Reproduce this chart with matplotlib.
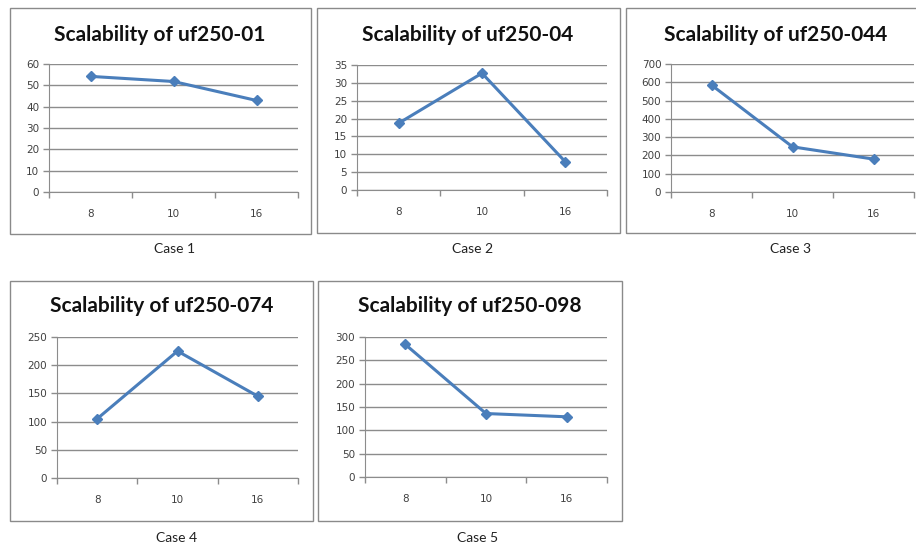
import matplotlib
matplotlib.use("Agg")
import matplotlib.pyplot as plt
from matplotlib.patches import Rectangle

# processor counts on the x axis, shared by every panel
procs = ["8", "10", "16"]

titles = ["Scalability of uf250-01", "Scalability of uf250-04",
          "Scalability of uf250-044", "Scalability of uf250-074",
          "Scalability of uf250-098"]
captions = ["Case 1", "Case 2", "Case 3", "Case 4", "Case 5"]

case1 = [54.2, 51.8, 42.9]
case2 = [18.7, 32.7, 7.9]
case3 = [585, 247, 180]
case4 = [105, 225, 145]
case5 = [284, 136, 129]
series = [case1, case2, case3, case4, case5]

ymax = [60, 35, 700, 250, 300]
ystep = [10, 5, 100, 50, 50]

W, H = 916, 550
LINE = "#4A7EBB"
GRID = "#8C8C8C"
TXT = "#404040"

# pixel layout: box (l, t, r, b), plot (l, t, r, b), title (x, y), caption (x, y)
boxes = [(10, 8, 311, 234), (317, 8, 620, 233), (626, 8, 920, 233),
         (10, 281, 313, 521), (318, 281, 622, 521)]
plots = [(49, 64, 298, 192), (357, 65, 607, 190), (671, 64, 914, 192),
         (57, 337, 298, 478), (365, 337, 607, 477)]
title_pos = [(160, 35), (468, 35), (776, 35), (162, 306), (470, 306)]
cap_pos = [(175, 249), (473, 249), (790, 249), (177, 538), (478, 538)]


def fx(x):
    return x / W


def fy(y):
    return 1 - y / H


fig = plt.figure(figsize=(W / 100, H / 100), dpi=100)
fig.patch.set_facecolor("white")

for i in range(5):
    bl, bt, br, bb = boxes[i]
    fig.patches.append(Rectangle((fx(bl), fy(bb)), fx(br - bl), (bb - bt) / H,
                                 transform=fig.transFigure, fill=False,
                                 ec="#8A8A8A", lw=1.0))

    pl, pt, pr, pb = plots[i]
    ax = fig.add_axes([fx(pl), fy(pb), fx(pr - pl), (pb - pt) / H])
    x = list(range(len(procs)))
    ax.plot(x, series[i], color=LINE, lw=2.2, marker="D", ms=5.5,
            mfc=LINE, mec=LINE, zorder=3, clip_on=False)

    ax.set_xlim(-0.5, len(procs) - 0.5)
    ax.set_ylim(0, ymax[i])
    ax.set_yticks(range(0, ymax[i] + 1, ystep[i]))
    ax.set_xticks(x)
    ax.set_xticklabels(procs)
    ax.set_xticks([k - 0.5 for k in range(len(procs) + 1)], minor=True)
    ax.tick_params(axis="x", which="major", length=0, pad=12,
                   labelsize=7.5, labelcolor=TXT)
    ax.tick_params(axis="x", which="minor", length=4, color=GRID, width=1)
    ax.tick_params(axis="y", length=4, color=GRID, width=1,
                   labelsize=7.5, labelcolor=TXT, pad=3)
    ax.yaxis.grid(True, color=GRID, lw=1.0)
    ax.set_axisbelow(True)
    for s in ["top", "right"]:
        ax.spines[s].set_visible(False)
    ax.spines["left"].set_color(GRID)
    ax.spines["bottom"].set_color(GRID)

    tx, ty = title_pos[i]
    fig.text(fx(tx), fy(ty), titles[i], ha="center", va="center",
             fontsize=15, fontweight="bold", family="Lato", color="#111111")
    cx, cy = cap_pos[i]
    fig.text(fx(cx), fy(cy), captions[i], ha="center", va="center",
             fontsize=10, family="Lato", color="#222222")

fig.savefig("out.png", dpi=100, facecolor="white")
